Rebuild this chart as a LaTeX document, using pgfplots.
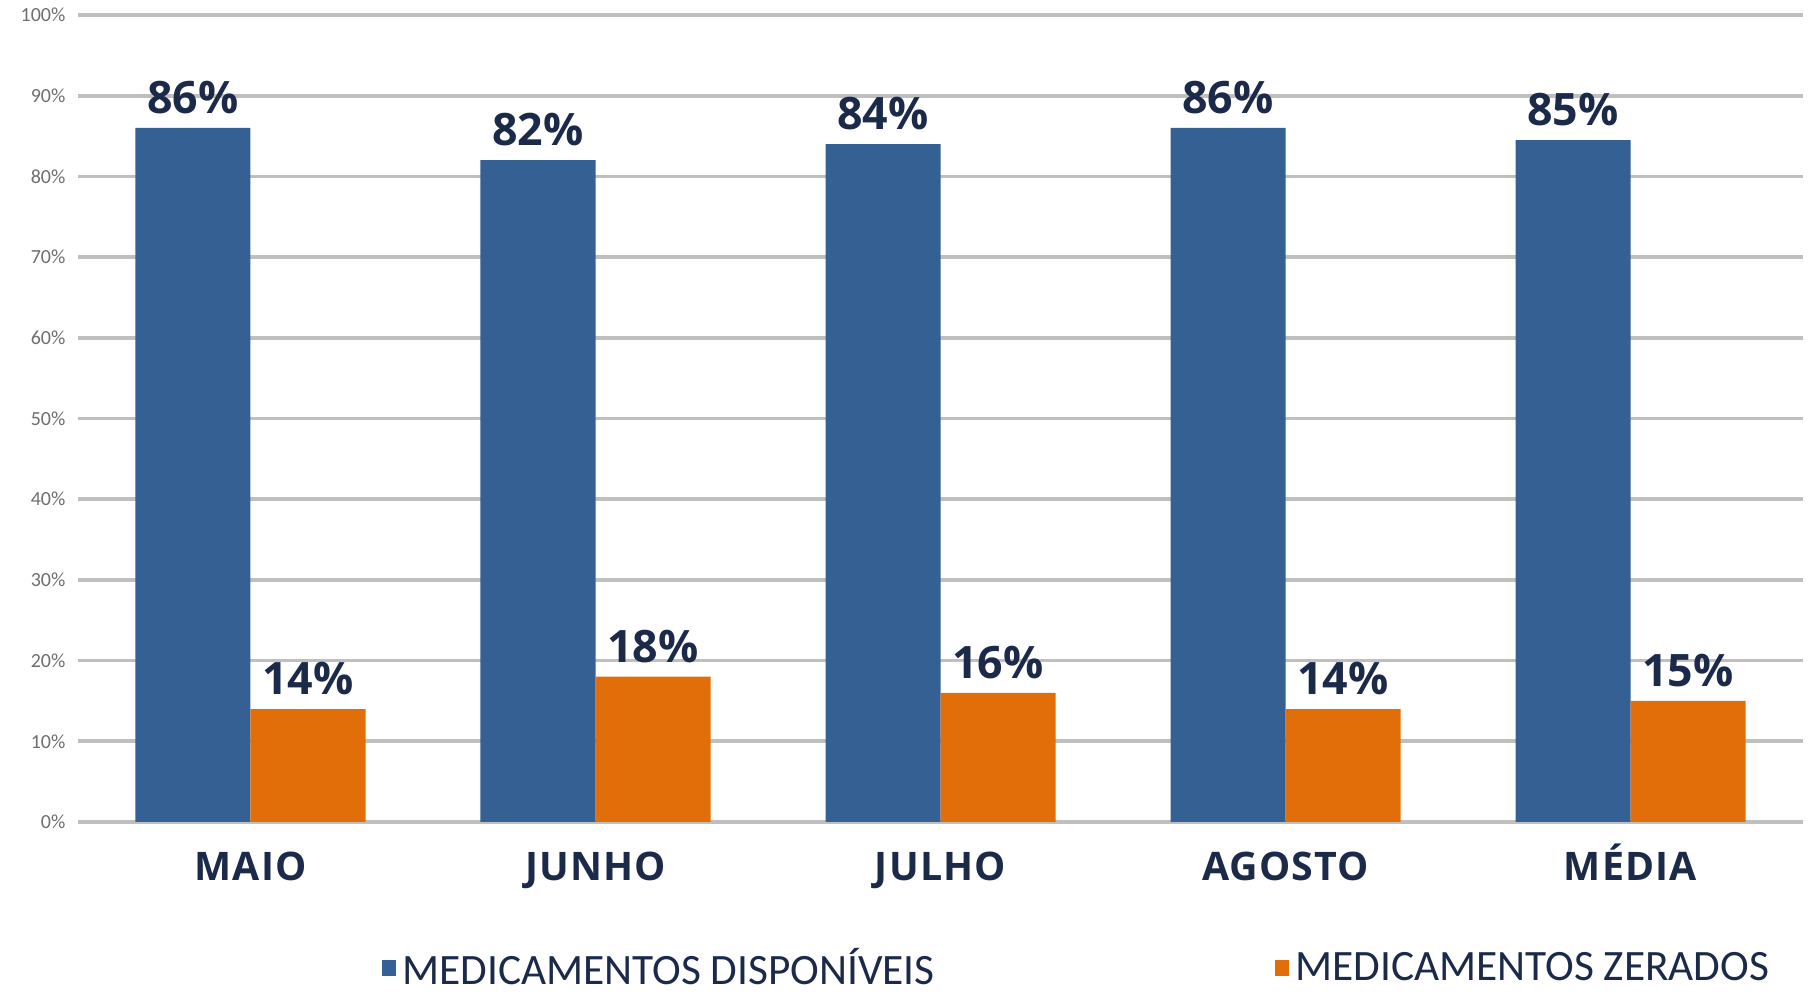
\documentclass[border=0pt]{standalone}
\usepackage{fontspec}
\setmainfont{Open Sans}
\newfontfamily\legfont{Carlito}
\newfontfamily\catfont[LetterSpace=3]{Open Sans}
\usepackage{pgfplots}
\pgfplotsset{compat=1.18}
\definecolor{barblue}{RGB}{52,96,148}
\definecolor{barorange}{RGB}{226,110,10}
\definecolor{navy}{RGB}{28,42,74}
\definecolor{gridgray}{RGB}{191,191,191}
\definecolor{ticklab}{RGB}{110,110,110}
\begin{document}
\begin{tikzpicture}
\begin{axis}[
 name=ax,
 scale only axis,
 width=517.5pt, height=242.1pt,
 ybar=0pt, bar width=34.5pt,
 xmin=-0.5, xmax=4.5, ymin=0, ymax=100,
 xtick={0,...,4}, xticklabels={MAIO,JUNHO,JULHO,AGOSTO,MÉDIA},
 ytick={0,10,...,100},
 yticklabel={\pgfmathprintnumber{\tick}\%},
 /pgf/number format/assume math mode=true,
 axis line style={draw=none},
 major tick length=0pt,
 ymajorgrids, grid style={gridgray, line width=1.1pt},
 yticklabel style={font=\legfont\fontsize{6}{7}\selectfont, text=ticklab, inner sep=0pt, xshift=-3.6pt},
 xticklabel style={font=\catfont\bfseries\fontsize{11.8}{13}\selectfont, text=navy, inner sep=0pt, anchor=north, text height=8.4pt, yshift=-9pt},
 nodes near coords,
 point meta=explicit symbolic,
 nodes near coords style={font=\bfseries\fontsize{13.4}{15}\selectfont, text=navy, inner sep=0pt, anchor=south, yshift=4pt},
 legend columns=2,
 legend style={draw=none, fill=none, inner sep=0pt, at={(0.1757,0)}, anchor=west, yshift=-44pt, font=\legfont\fontsize{13}{15}\selectfont, text=navy, /tikz/every even column/.append style={column sep=100pt}},
 legend image code/.code={\fill[#1] (0pt,-2.2pt) rectangle (4.2pt,2.6pt);},
 clip=false,
]
\addplot[fill=barblue, draw=none] coordinates {(0,86)[86\%] (1,82)[82\%] (2,84)[84\%] (3,86)[86\%] (4,84.5)[85\%]};
\addlegendentry{MEDICAMENTOS DISPONÍVEIS}
\addplot[fill=barorange, draw=none] coordinates {(0,14)[14\%] (1,18)[18\%] (2,16)[16\%] (3,14)[14\%] (4,15)[15\%]};
\addlegendentry{MEDICAMENTOS ZERADOS}
\end{axis}
\pgfresetboundingbox
\useasboundingbox ([xshift=-23.4pt,yshift=-51.9pt]ax.south west) rectangle ([xshift=2.1pt,yshift=4.5pt]ax.north east);
\end{tikzpicture}
\end{document}
